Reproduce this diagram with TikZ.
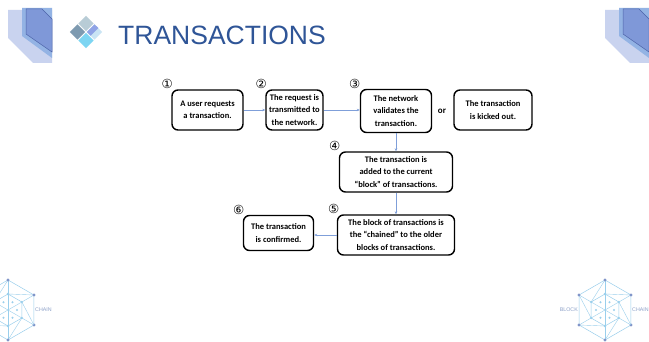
\documentclass[tikz,border=0pt]{standalone}
\usepackage{fontspec}
\usetikzlibrary{positioning,arrows.meta}
\newfontfamily\boxfont{Carlito}
\newfontfamily\headfont{Liberation Sans}
\newfontfamily\circfont{DejaVu Sans}
\definecolor{headblue}{HTML}{2F5597}
\definecolor{linkblue}{HTML}{7F9FD9}
\definecolor{barlight}{HTML}{C9D3EF}
\definecolor{barmid}{HTML}{93B3E4}
\definecolor{bardark}{HTML}{7F98D8}
\definecolor{baredge}{HTML}{4D64A8}
\definecolor{iconline}{HTML}{9ACFEC}
\definecolor{icondot}{HTML}{8195C9}
\definecolor{icontext}{HTML}{8CA0C8}
\definecolor{gemtop}{HTML}{B8CCD6}
\definecolor{gemleft}{HTML}{7E9AB0}
\definecolor{gemright}{HTML}{C9E4F4}
\definecolor{gemmid}{HTML}{8FA3E6}
\definecolor{gembottom}{HTML}{7DD5F2}

% beveled bars in the top corners
\newcommand\cornerbar[1]{%
  \begin{scope}[shift={(#1,0)}]
    \fill[barlight] (8,10) -- (8,38) -- (33,63) -- (52,63) -- (52,10) -- cycle;
    \fill[barmid] (22,8) -- (22,36) -- (52,58) -- (52,8) -- cycle;
    \filldraw[fill=bardark,draw=baredge,line width=0.5pt]
      (26,9) -- (42,9) -- (52,19) -- (52,52) -- (26,34) -- cycle;
  \end{scope}}

% hexagon network logo, #2 names its centre
\newcommand\chainicon[2]{%
  \begin{scope}[shift={#1}]
    \coordinate (#2) at (0,0);
    \draw[iconline,line width=0.5pt] (30:30) -- (90:30) -- (150:30) -- (210:30) -- (270:30) -- (330:30) -- cycle;
    \draw[iconline,line width=0.5pt] (30:16) -- (90:16) -- (150:16) -- (210:16) -- (270:16) -- (330:16) -- cycle;
    \foreach \a in {30,90,...,330} {
      \draw[iconline,line width=0.4pt] (0,0) -- (\a:30);
      \draw[iconline,line width=0.4pt] (\a:16) -- (\a+60:30);
      \fill[icondot] (\a:30) circle (1.6);
      \fill[iconline] (\a:16) circle (1.3);
      \fill[iconline] (\a+30:9) circle (1.1);
    }
    \node[logoword,anchor=west] (#2-chain) at (27,0) {CHAIN};
  \end{scope}}

\tikzset{
  tbox/.style={draw,rounded corners=6pt,line width=1.4pt,fill=white,align=center,
    inner sep=1.5pt,minimum height=40pt,font=\boxfont\bfseries\fontsize{8.5}{12.5}\selectfont},
  link/.style={-{Stealth[length=3pt,width=2.5pt]},draw=linkblue,line width=0.5pt},
  steplbl/.style={font=\circfont\fontsize{12.5}{13}\selectfont,inner sep=0pt},
  logoword/.style={inner sep=0pt,text=icontext,font=\headfont\fontsize{5.3}{6}\selectfont},
}

\begin{document}
\begin{tikzpicture}[x=1pt,y=-1pt,on grid]
\clip (0,0) rectangle (649,342);
\fill[white] (0,0) rectangle (649,342);

\cornerbar{0}
\cornerbar{597}

% title with the small diamond
\fill[gemtop] (86,15.8) -- (93.7,23.5) -- (86,31.2) -- (78.3,23.5) -- cycle;
\fill[gemleft] (69.8,32) -- (77.5,24.3) -- (85.2,32) -- (77.5,39.7) -- cycle;
\fill[gemright] (86.8,32) -- (94.5,24.3) -- (102.2,32) -- (94.5,39.7) -- cycle;
\fill[gemmid] (86.8,32) -- (94.5,24.3) -- (98.4,28.1) -- (90.7,35.8) -- cycle;
\fill[gembottom] (86,32.8) -- (93.7,40.5) -- (86,48.2) -- (78.3,40.5) -- cycle;
\node[anchor=base west,inner sep=0pt,text=headblue,font=\headfont\fontsize{26.5}{30}\selectfont] (title) at (118,45) {TRANSACTIONS};

% the steps
\node[tbox,minimum width=71pt] (req) at (207.5,110) {A user requests\\a transaction.};
\node[tbox,minimum width=57pt,right=87pt of req] (send) {The request is\\transmitted to\\the network.};
\node[tbox,minimum width=71pt,minimum height=43pt,right=101.5pt of send,yshift=-1pt] (valid) {The network\\validates the\\transaction.};
\node[right=46pt of valid,font=\boxfont\bfseries\fontsize{9}{12}\selectfont] (orword) {or};
\node[tbox,minimum width=78pt,right=97pt of valid,yshift=1pt] (kicked) {The transaction\\is kicked out.};
\node[tbox,minimum width=113pt,below=61pt of valid] (added) {The transaction is\\added to the current\\“block” of transactions.};
\node[tbox,minimum width=117pt,below=63pt of added] (chained) {The block of transactions is\\the “chained” to the older\\blocks of transactions.};
\node[tbox,minimum width=70pt,minimum height=35pt,left=117.5pt of chained,yshift=2pt] (done) {The transaction\\is confirmed.};

% step numbers
\node[steplbl] (n1) at ([xshift=-4pt,yshift=5pt]req.north west) {①};
\node[steplbl] (n2) at ([xshift=-4pt,yshift=5pt]send.north west) {②};
\node[steplbl] (n3) at ([xshift=-5pt,yshift=5pt]valid.north west) {③};
\node[steplbl] (n4) at ([xshift=-4pt,yshift=5pt]added.north west) {④};
\node[steplbl] (n5) at ([xshift=-3pt,yshift=5pt]chained.north west) {⑤};
\node[steplbl] (n6) at ([xshift=-4pt,yshift=5pt]done.north west) {⑥};

\draw[link] (req) -- (send);
\draw[link] (send.east) -- (send.east -| valid.west);
\draw[link] (valid) -- (added);
\draw[link] (added) -- (chained);
\draw[link] (chained.west) -- (chained.west -| done.east);

\chainicon{(8,310)}{leftlogo}
\chainicon{(605,310)}{rightlogo}
\node[logoword,anchor=east] (rightlogo-block) at ([xshift=-27pt]rightlogo) {BLOCK};
\end{tikzpicture}
\end{document}
